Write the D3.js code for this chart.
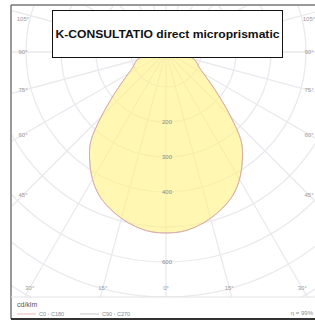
<!DOCTYPE html>
<html>
<head>
<meta charset="utf-8">
<script src="https://cdn.jsdelivr.net/npm/d3@7"></script>
<style>
  html, body { margin: 0; padding: 0; background: #fff; overflow: hidden; }
  text { font-family: "Liberation Sans", Arial, sans-serif; }
</style>
</head>
<body>
<div id="chart"></div>
<script>
// polar light distribution (cd/klm), 0° = straight down
const gammaAngles = [0, 5, 10, 15, 20, 25, 30, 35, 40, 45, 50, 55, 60, 65, 70, 75, 80, 85, 90, 95];
const c0c180 = [517, 515, 506, 492, 474, 452, 420, 380, 335, 262, 200, 155, 125, 105, 95, 85, 68, 42, 8, 0];
const c90c270 = [517, 515, 506, 492, 474, 452, 420, 380, 335, 262, 200, 155, 125, 105, 95, 85, 68, 42, 8, 0];
const gridValues = [100, 200, 300, 400, 500, 600, 700, 800, 900];
const radialLabels = [200, 300, 400, 600];
const angleLabels = [105, 90, 75, 60, 45, 30, 15, 0];
const legendItems = ["C0 - C180", "C90 - C270"];
const title = "K-CONSULTATIO direct microprismatic";
const unitLabel = "cd/klm";
const efficiency = "η = 99%";

const W = 315, H = 320;
const cx = 166, cy = 52;
const frame = { left: 11, top: 5, right: 321, plotBottom: 297, bottom: 319 };

const svg = d3.select("#chart").append("svg")
    .attr("width", W)
    .attr("height", H);

// clip for the polar grid
svg.append("defs").append("clipPath").attr("id", "plotClip")
    .append("rect")
    .attr("x", frame.left + 1).attr("y", frame.top + 1)
    .attr("width", frame.right - frame.left - 2)
    .attr("height", frame.plotBottom - frame.top - 1);

const r = d3.scaleLinear().domain([0, 100]).range([0, 35]);

const plot = svg.append("g").attr("clip-path", "url(#plotClip)");
const g = plot.append("g").attr("transform", `translate(${cx},${cy})`);

// grid circles
g.selectAll("circle.grid")
    .data(gridValues)
    .join("circle")
    .attr("class", "grid")
    .attr("r", d => r(d))
    .attr("fill", "none")
    .attr("stroke", "#eaeaee")
    .attr("stroke-width", 1.3);

// radial spokes every 15°
g.selectAll("line.spoke")
    .data(d3.range(0, 360, 15))
    .join("line")
    .attr("class", "spoke")
    .attr("x1", 0).attr("y1", 0)
    .attr("x2", d => Math.sin(d * Math.PI / 180) * r(1000))
    .attr("y2", d => Math.cos(d * Math.PI / 180) * r(1000))
    .attr("stroke", "#eaeaee")
    .attr("stroke-width", 1.3);

// build mirrored curve points
function curvePoints(values) {
    const pts = [];
    for (let i = gammaAngles.length - 1; i > 0; i--) pts.push([-gammaAngles[i], values[i]]);
    for (let i = 0; i < gammaAngles.length; i++) pts.push([gammaAngles[i], values[i]]);
    return pts;
}

const radial = d3.lineRadial()
    .angle(d => Math.PI - d[0] * Math.PI / 180)
    .radius(d => r(d[1]))
    .curve(d3.curveCatmullRom);

g.append("path")
    .attr("d", radial(curvePoints(c0c180)) + "Z")
    .attr("fill", "#fff27e")
    .attr("fill-opacity", 0.6)
    .attr("stroke", "none");

g.append("path")
    .attr("d", radial(curvePoints(c90c270)))
    .attr("fill", "none")
    .attr("stroke", "#b8b8b8")
    .attr("stroke-width", 0.8);

g.append("path")
    .attr("d", radial(curvePoints(c0c180)))
    .attr("fill", "none")
    .attr("stroke", "#e6a6a0")
    .attr("stroke-width", 0.8);

// radial value labels
g.selectAll("text.rlab")
    .data(radialLabels)
    .join("text")
    .attr("class", "rlab")
    .attr("x", 1)
    .attr("y", d => r(d) + 2)
    .attr("text-anchor", "middle")
    .attr("font-size", 6)
    .attr("fill", "#8a8a8a")
    .text(d => d);

// angle labels along the frame
const halfW = 143, bottomRow = 236;
const angLab = [];
angleLabels.forEach(a => {
    const sides = a === 0 ? [1] : [-1, 1];
    sides.forEach(s => {
        const rad = a * Math.PI / 180;
        let x, y;
        if (a >= 40) {
            x = cx + s * halfW;
            y = Math.max(19, cy + halfW * Math.cos(rad) / Math.sin(rad));
        } else {
            y = cy + bottomRow;
            x = cx + s * bottomRow * Math.tan(rad);
        }
        angLab.push({ a, x, y });
    });
});

svg.selectAll("text.alab")
    .data(angLab)
    .join("text")
    .attr("class", "alab")
    .attr("x", d => d.x)
    .attr("y", d => d.y + 2)
    .attr("text-anchor", "middle")
    .attr("font-size", 6)
    .attr("fill", "#9a9a9a")
    .text(d => d.a + "°");

// frame
svg.append("line")
    .attr("x1", frame.left).attr("x2", frame.right)
    .attr("y1", frame.top).attr("y2", frame.top)
    .attr("stroke", "#777").attr("stroke-width", 1.5);
svg.append("line")
    .attr("x1", frame.left).attr("x2", frame.left)
    .attr("y1", frame.top).attr("y2", frame.bottom)
    .attr("stroke", "#777").attr("stroke-width", 1.5);
svg.append("line")
    .attr("x1", frame.left).attr("x2", frame.right)
    .attr("y1", frame.plotBottom).attr("y2", frame.plotBottom)
    .attr("stroke", "#e2e2e2").attr("stroke-width", 1);
svg.append("line")
    .attr("x1", frame.left).attr("x2", frame.right)
    .attr("y1", frame.bottom).attr("y2", frame.bottom)
    .attr("stroke", "#333").attr("stroke-width", 2);

// title box
svg.append("rect")
    .attr("x", 52.5).attr("y", 10.5)
    .attr("width", 230).attr("height", 47)
    .attr("fill", "#fff")
    .attr("stroke", "#111")
    .attr("stroke-width", 1);
svg.append("text")
    .attr("x", 167.5).attr("y", 38)
    .attr("text-anchor", "middle")
    .attr("font-size", 11.5)
    .attr("font-weight", "bold")
    .attr("font-family", "'Open Sans', sans-serif")
    .attr("textLength", 224)
    .attr("lengthAdjust", "spacingAndGlyphs")
    .attr("fill", "#111")
    .text(title);

// legend
svg.append("text")
    .attr("x", 17).attr("y", 307)
    .attr("font-size", 7)
    .attr("fill", "#555")
    .text(unitLabel);

const legendColors = ["#e6a6a0", "#b8b8b8"];
const legendX = [17, 80];
legendItems.forEach((label, i) => {
    svg.append("line")
        .attr("x1", legendX[i]).attr("x2", legendX[i] + 19)
        .attr("y1", 314).attr("y2", 314)
        .attr("stroke", legendColors[i]).attr("stroke-width", 0.8);
    svg.append("text")
        .attr("x", legendX[i] + 22).attr("y", 316)
        .attr("font-size", 5.5)
        .attr("fill", "#8a8a8a")
        .text(label);
});

svg.append("text")
    .attr("x", 313).attr("y", 315)
    .attr("text-anchor", "end")
    .attr("font-size", 6)
    .attr("fill", "#8a8a8a")
    .text(efficiency);
</script>
</body>
</html>
